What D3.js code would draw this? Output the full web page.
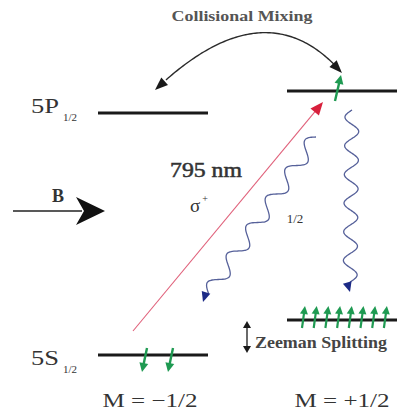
<!DOCTYPE html>
<html>
<head>
<meta charset="utf-8">
<script src="https://cdn.jsdelivr.net/npm/d3@7"></script>
<style>
  html, body { margin: 0; padding: 0; background: #fff; }
  svg { display: block; }
  text { font-family: "Liberation Serif", "Times New Roman", serif; }
</style>
</head>
<body>
<div id="chart"></div>
<script>
// Rb D1 optical pumping: 5S1/2 and 5P1/2 Zeeman sublevels
const mValues      = [-0.5, 0.5];
const mLabels      = ["M = \u22121/2", "M = +1/2"];
const levelState   = ["5S", "5S", "5P", "5P"];
const levelM       = [-0.5, 0.5, -0.5, 0.5];
const levelEnergy  = [0, 35, 242, 264];          // arbitrary energy units
const spinCount    = [2, 8, 0, 1];               // population arrows per sublevel
const stateLabels  = [{ name: "5P", sub: "1/2", energy: 242 }, { name: "5S", sub: "1/2", energy: 0 }];
const pumpLabel    = ["795 nm", "\u03C3"];
const branchLabel  = "1/2";
const mixingLabel  = "Collisional Mixing";
const zeemanLabel  = "Zeeman Splitting";
const fieldLabel   = "B";

const W = 397, H = 412;
const svg = d3.select("#chart").append("svg").attr("width", W).attr("height", H);

const x = d3.scaleLinear().domain([-0.5, 0.5]).range([153, 342]);
const y = d3.scaleLinear().domain([0, 264]).range([355, 91]);
const halfW = 55;

const ink = "#1a1a1a";
const textCol = "#333";
const green = "#1f9a52";

function head(tip, from, len, wid, color) {
  const dx = tip[0] - from[0], dy = tip[1] - from[1];
  const d = Math.hypot(dx, dy), ux = dx / d, uy = dy / d;
  const bx = tip[0] - ux * len, by = tip[1] - uy * len;
  const px = -uy * wid / 2, py = ux * wid / 2;
  svg.append("polygon")
    .attr("points", [[tip[0], tip[1]], [bx + px, by + py], [bx - px, by - py]].map(p => p.join(",")).join(" "))
    .attr("fill", color);
  return [bx, by];
}

function arrow(base, tip, color, sw, len, wid) {
  const dx = tip[0] - base[0], dy = tip[1] - base[1];
  const d = Math.hypot(dx, dy);
  const end = [tip[0] - dx / d * (len * 0.7), tip[1] - dy / d * (len * 0.7)];
  svg.append("line").attr("x1", base[0]).attr("y1", base[1]).attr("x2", end[0]).attr("y2", end[1])
    .attr("stroke", color).attr("stroke-width", sw);
  head(tip, base, len, wid, color);
}

// wavy decay line along a straight axis, ending in a small arrowhead
function wavy(start, tip, periods, amp, color, headColor) {
  const hl = 10;
  const dx = tip[0] - start[0], dy = tip[1] - start[1];
  const L = Math.hypot(dx, dy), ux = dx / L, uy = dy / L;
  const nx = -uy, ny = ux;
  const len = L - hl;
  const pts = d3.range(0, 201).map(i => {
    const t = i / 200, s = t * len;
    const w = amp * Math.sin(2 * Math.PI * periods * t);
    return [start[0] + ux * s + nx * w, start[1] + uy * s + ny * w];
  });
  svg.append("path").attr("d", d3.line().curve(d3.curveBasis)(pts))
    .attr("fill", "none").attr("stroke", color).attr("stroke-width", 1.3);
  head(tip, [tip[0] - ux * 10 + nx * 3, tip[1] - uy * 10 + ny * 3], hl, 9, headColor);
}

// energy levels
levelState.forEach((s, i) => {
  svg.append("line")
    .attr("x1", x(levelM[i]) - halfW).attr("x2", x(levelM[i]) + halfW)
    .attr("y1", y(levelEnergy[i])).attr("y2", y(levelEnergy[i]))
    .attr("stroke", ink).attr("stroke-width", 3);
});

// state labels
stateLabels.forEach((d, i) => {
  const base = d.name === "5P" ? y(d.energy) : y(d.energy) + 10;
  svg.append("text").attr("x", 31).attr("y", base)
    .attr("font-size", 20).attr("fill", textCol)
    .attr("textLength", 28).attr("lengthAdjust", "spacingAndGlyphs").text(d.name);
  svg.append("text").attr("x", 63).attr("y", base + 8)
    .attr("font-size", 11).attr("fill", textCol).text(d.sub);
});

// column labels
mValues.forEach((m, i) => {
  svg.append("text").attr("x", x(m) - 3 + i * 3).attr("y", 407).attr("text-anchor", "middle")
    .attr("font-size", 19).attr("fill", textCol)
    .attr("textLength", 95).attr("lengthAdjust", "spacingAndGlyphs").text(mLabels[i]);
});

// population (spin) arrows
levelState.forEach((s, i) => {
  const n = spinCount[i];
  if (!n) return;
  const m = levelM[i], e = levelEnergy[i];
  if (s === "5S" && m < 0) {
    d3.range(n).forEach(k => {
      const bx = x(m) - 6 + k * 26;
      arrow([bx, y(e) - 7], [bx - 5, y(e) + 17], green, 2.4, 9, 9);
    });
  } else if (s === "5S") {
    d3.range(n).forEach(k => {
      const bx = x(m) - 40 + k * 11.7;
      arrow([bx, y(e) + 8], [bx + 3, y(e) - 14], green, 2.2, 8, 8);
    });
  } else {
    arrow([x(m) - 7, y(e) + 10], [x(m) - 1, y(e) - 16], green, 2.4, 9, 9);
  }
});

// sigma+ pump laser
const pumpStart = [x(-0.5) - 20, y(0) - 24];
const pumpTip = [x(0.5) - 19, y(264) + 11];
{
  const dx = pumpTip[0] - pumpStart[0], dy = pumpTip[1] - pumpStart[1], d = Math.hypot(dx, dy);
  svg.append("line").attr("x1", pumpStart[0]).attr("y1", pumpStart[1])
    .attr("x2", pumpTip[0] - dx / d * 8).attr("y2", pumpTip[1] - dy / d * 8)
    .attr("stroke", "#e0607a").attr("stroke-width", 1.1);
  head(pumpTip, pumpStart, 13, 11, "#d8203c");
}

// spontaneous decay paths
wavy([x(0.5) - 26, y(264) + 46], [x(-0.5) + 50, y(0) - 53], 5.5, 7.5, "#56619a", "#1c2a86");
wavy([x(0.5) + 10, y(264) + 19], [x(0.5) + 8, y(35) - 28], 6, 7, "#56619a", "#1c2a86");

// collisional mixing arc between the 5P sublevels
{
  const p0 = [x(-0.5) + 2, y(242) - 23];
  const p2 = [x(0.5), y(264) - 18];
  const apex = [257, 33];
  const c = [2 * apex[0] - (p0[0] + p2[0]) / 2, 2 * apex[1] - (p0[1] + p2[1]) / 2];
  const q = t => [(1 - t) * (1 - t) * p0[0] + 2 * t * (1 - t) * c[0] + t * t * p2[0],
                  (1 - t) * (1 - t) * p0[1] + 2 * t * (1 - t) * c[1] + t * t * p2[1]];
  const pts = d3.range(0.05, 0.951, 0.01).map(q);
  svg.append("path").attr("d", d3.line()(pts)).attr("fill", "none")
    .attr("stroke", "#2a2a2a").attr("stroke-width", 1.4);
  head(p0, q(0.07), 13, 10, ink);
  head(p2, q(0.93), 13, 10, ink);
}
svg.append("text").attr("x", 242).attr("y", 21).attr("text-anchor", "middle")
  .attr("font-size", 15).attr("font-weight", "bold").attr("fill", "#555")
  .attr("textLength", 141).attr("lengthAdjust", "spacingAndGlyphs").text(mixingLabel);

// magnetic field arrow
svg.append("line").attr("x1", 13).attr("x2", 82).attr("y1", 211).attr("y2", 211)
  .attr("stroke", "#222").attr("stroke-width", 1.6);
svg.append("polygon").attr("points", "105,211 76,197 84,211 76,225").attr("fill", "#111");
svg.append("text").attr("x", 58).attr("y", 202).attr("text-anchor", "middle")
  .attr("font-size", 18).attr("font-weight", "bold").attr("fill", textCol).text(fieldLabel);

// pump labels
svg.append("text").attr("x", 206).attr("y", 177).attr("text-anchor", "middle")
  .attr("font-size", 20).attr("fill", textCol)
  .attr("stroke", textCol).attr("stroke-width", 0.5)
  .attr("textLength", 72).attr("lengthAdjust", "spacingAndGlyphs").text(pumpLabel[0]);
svg.append("text").attr("x", 195).attr("y", 212).attr("text-anchor", "middle")
  .attr("font-size", 19).attr("fill", textCol).text(pumpLabel[1]);
svg.append("text").attr("x", 205).attr("y", 202).attr("text-anchor", "middle")
  .attr("font-size", 10).attr("fill", textCol).text("+");

// branching ratio
svg.append("text").attr("x", 295).attr("y", 223).attr("text-anchor", "middle")
  .attr("font-size", 13).attr("fill", textCol).text(branchLabel);

// Zeeman splitting marker
{
  const xz = 247, top = y(35) + 1, bot = y(0) - 2;
  svg.append("line").attr("x1", xz).attr("x2", xz).attr("y1", top + 5).attr("y2", bot - 5)
    .attr("stroke", ink).attr("stroke-width", 1.3);
  head([xz, top], [xz, bot], 7, 8, ink);
  head([xz, bot], [xz, top], 7, 8, ink);
  svg.append("text").attr("x", 255).attr("y", 348)
    .attr("font-size", 16).attr("font-weight", "bold").attr("fill", "#444")
    .attr("textLength", 132).attr("lengthAdjust", "spacingAndGlyphs").text(zeemanLabel);
}
</script>
</body>
</html>
